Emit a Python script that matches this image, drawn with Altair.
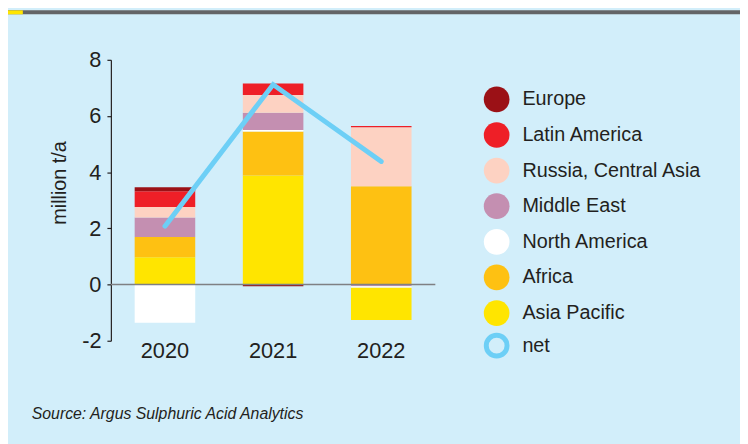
import altair as alt
import pandas as pd

years = ["2020", "2021", "2022"]
regions = ["Europe", "Latin America", "Russia, Central Asia", "Middle East",
           "North America", "Africa", "Asia Pacific"]
region_colors = ["#9b1116", "#ee1f27", "#fdd2c2", "#c48fb1",
                 "#ffffff", "#fec112", "#ffe500"]
net_color = "#6dcff6"

europe = [0.14, -0.06, 0.00]
latin_america = [0.56, 0.41, 0.04]
russia_central_asia = [0.37, 0.63, 2.10]
middle_east = [0.70, 0.62, -0.06]
north_america = [-1.36, 0.05, -0.05]
africa = [0.72, 1.57, 3.50]
asia_pacific = [0.97, 3.88, -1.15]
net = [2.08, 7.12, 4.38]

series = [europe, latin_america, russia_central_asia, middle_east,
          north_america, africa, asia_pacific]

rows = []
for i, yr in enumerate(years):
    pos = 0.0
    for r, s in reversed(list(zip(regions, series))):
        v = s[i]
        if v > 0:
            rows.append({"year": yr, "region": r, "y0": pos, "y1": pos + v})
            pos += v
    neg = 0.0
    for r, s in zip(regions, series):
        v = s[i]
        if v < 0:
            rows.append({"year": yr, "region": r, "y0": neg, "y1": neg + v})
            neg += v
bars_df = pd.DataFrame(rows)
net_df = pd.DataFrame({"year": years, "net": net})

FONT = "Liberation Sans"
TXT = "#231f20"

x_enc = alt.X("year:N", sort=years,
              scale=alt.Scale(paddingInner=0.44, paddingOuter=0.22),
              axis=alt.Axis(title=None, labelAngle=0, ticks=False, domain=False,
                            labelFontSize=22, labelPadding=0))
y_scale = alt.Scale(domain=[-2, 8], nice=False)

region_legend = alt.Legend(
    title=None, orient="none", legendX=377, legendY=27, direction="vertical",
    symbolType="circle", symbolSize=676, symbolStrokeWidth=0,
    labelFontSize=20, labelFont=FONT, labelColor=TXT, labelOffset=13,
    rowPadding=10, padding=0, labelLimit=300,
)
net_legend = alt.Legend(
    title=None, orient="none", legendX=377, legendY=276, direction="vertical",
    symbolType="circle", symbolSize=441, symbolStrokeWidth=5,
    symbolFillColor="transparent",
    labelFontSize=20, labelFont=FONT, labelColor=TXT, labelOffset=13,
    padding=0, labelLimit=300,
)

bars = alt.Chart(bars_df).mark_bar().encode(
    x=x_enc,
    y=alt.Y("y0:Q", scale=y_scale,
            axis=alt.Axis(values=[-2, 0, 2, 4, 6, 8], labelExpr="'' + datum.value",
                          title="million t/a", grid=False,
                          labelFontSize=22, labelPadding=6, tickSize=4,
                          titleFontSize=20, titleFontWeight="normal",
                          titleX=-52, titleY=124, titleAngle=270,
                          titleAlign="center", titleBaseline="middle")),
    y2="y1:Q",
    color=alt.Color("region:N", scale=alt.Scale(domain=regions, range=region_colors),
                    legend=region_legend),
)

zero = alt.Chart(pd.DataFrame({"z": [0]})).mark_rule(
    color="#7f8083", strokeWidth=1.5).encode(y=alt.Y("z:Q", scale=y_scale))

line = alt.Chart(net_df).mark_line(strokeWidth=5, strokeCap="round").encode(
    x=alt.X("year:N", sort=years),
    y=alt.Y("net:Q", scale=y_scale),
    stroke=alt.Stroke("series:N", scale=alt.Scale(domain=["net"], range=[net_color]),
                      legend=net_legend),
).transform_calculate(series="'net'")

header = alt.Chart(pd.DataFrame({"a": [0]})).mark_rect(color="#636466").encode(
    x=alt.value(-104), x2=alt.value(636), y=alt.value(-50), y2=alt.value(-46))
header_sq = alt.Chart(pd.DataFrame({"a": [0]})).mark_rect(color="#ffe500").encode(
    x=alt.value(-104), x2=alt.value(-89), y=alt.value(-50), y2=alt.value(-46))

chart = alt.layer(bars, zero, line, header, header_sq).resolve_legend(
    color="independent", stroke="independent"
).properties(
    width=328, height=284,
    autosize=alt.AutoSizeParams(type="none"),
    padding={"left": 104, "top": 50, "right": 308, "bottom": 102},
    title=alt.TitleParams(
        "Source: Argus Sulphuric Acid Analytics", orient="bottom", anchor="start",
        frame="group", dx=-80, offset=40, fontSize=16, fontStyle="italic",
        fontWeight="normal", font=FONT, color=TXT),
).configure(background="#d2eefa", font=FONT).configure_view(
    stroke=None
).configure_axis(
    labelFont=FONT, labelColor=TXT, titleFont=FONT, titleColor=TXT,
    domainColor=TXT, tickColor=TXT, domainWidth=1.2, tickWidth=1.2,
)

chart.save("out.html", embed_options={"renderer": "svg", "actions": False})
